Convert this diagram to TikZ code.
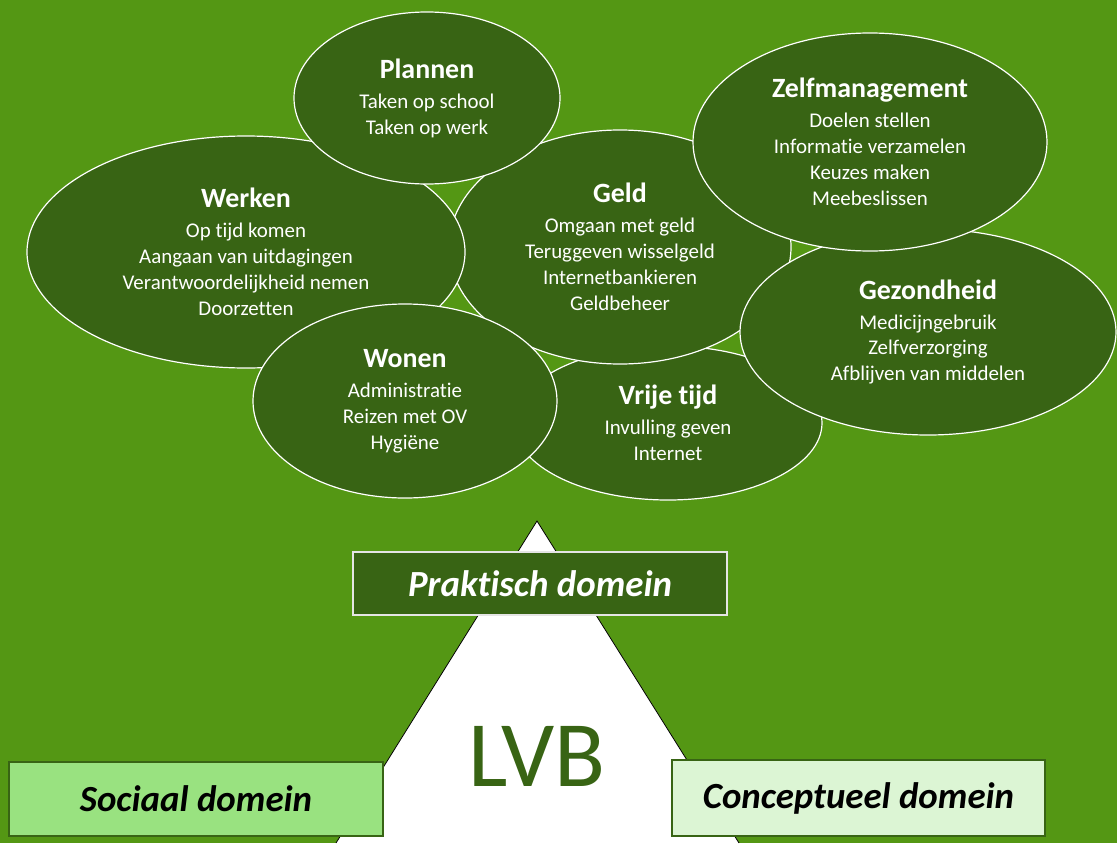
\documentclass[tikz,border=0pt]{standalone}
\usepackage{fontspec}
\setmainfont[Ligatures=NoCommon]{Carlito}
\usetikzlibrary{shapes.geometric}
\definecolor{fond}{RGB}{84,151,20}
\definecolor{vertfonce}{RGB}{56,100,20}
\definecolor{vertclair}{RGB}{153,226,128}
\definecolor{vertpale}{RGB}{220,245,212}
\begin{document}
\begin{tikzpicture}[x=1bp,y=-1bp]
	\tikzstyle{bulle}=[ellipse,draw=white,line width=1.2bp,fill=vertfonce,text=white,align=center,inner sep=0pt,font=\fontsize{21}{26}\selectfont]
	\tikzstyle{domaine}=[rectangle,line width=1.2bp,inner sep=0pt,font=\fontsize{37}{40}\selectfont\bfseries\itshape]
	\def\Titre#1{{\fontsize{28}{30}\selectfont\bfseries #1}\\[4bp]}
	\fill[fond] (0,0) rectangle (1117,843);
	% bulles
	\node[bulle,minimum width=308bp,minimum height=154bp] (VrijeTijd) at (668,423) {\Titre{Vrije tijd}Invulling geven\\Internet};
	\node[bulle,minimum width=342bp,minimum height=234bp] (Geld) at (620,247) {\Titre{Geld}Omgaan met geld\\Teruggeven wisselgeld\\Internetbankieren\\Geldbeheer};
	\node[bulle,minimum width=376bp,minimum height=206bp] (Gezondheid) at (928,332) {\Titre{Gezondheid}Medicijngebruik\\Zelfverzorging\\Afblijven van middelen};
	\node[bulle,minimum width=354bp,minimum height=218bp] (Zelfmanagement) at (870,142) {\Titre{Zelfmanagement}Doelen stellen\\Informatie verzamelen\\Keuzes maken\\Meebeslissen};
	\node[bulle,minimum width=438bp,minimum height=232bp] (Werken) at (246,252) {\Titre{Werken}Op tijd komen\\Aangaan van uitdagingen\\Verantwoordelijkheid nemen\\Doorzetten};
	\node[bulle,minimum width=266bp,minimum height=172bp] (Plannen) at (427,98) {\Titre{Plannen}Taken op school\\Taken op werk};
	\node[bulle,minimum width=304bp,minimum height=194bp] (Wonen) at (405,401) {\Titre{Wonen}Administratie\\Reizen met OV\\Hygiëne};
	% triangle
	\filldraw[fill=white,draw=black,line width=0.8bp] (336,843) -- (537,521) -- (739,843);
	\node[text=vertfonce,font=\fontsize{94}{94}\selectfont] (LVB) at (537,756) {LVB};
	% domeinen
	\node[domaine,fill=vertfonce,draw=white!80!gray,text=white,minimum width=374bp,minimum height=63bp] (Praktisch) at (540,583.5) {Praktisch domein};
	\node[domaine,fill=vertclair,draw=vertfonce,minimum width=374bp,minimum height=74bp] (Sociaal) at (196,799) {Sociaal domein};
	\node[domaine,fill=vertpale,draw=vertfonce,minimum width=373bp,minimum height=76bp] (Conceptueel) at (858.5,798) {Conceptueel domein};
\end{tikzpicture}
\end{document}
